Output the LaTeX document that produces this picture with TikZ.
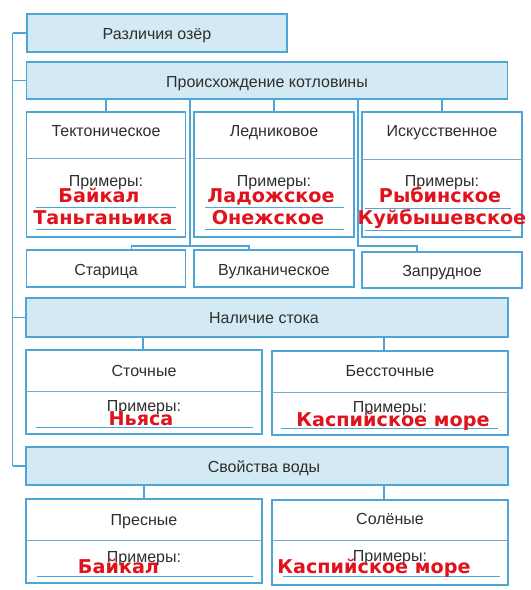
\documentclass[tikz,border=0pt]{standalone}
\usepackage{fontspec}
\setmainfont{Liberation Sans}
\newfontfamily\redfont[FakeStretch=1.01]{DejaVu Sans}
\usepackage{tikz}

\definecolor{lakeline}{HTML}{4DA6D6}
\definecolor{lakefill}{HTML}{D3EAF5}
\definecolor{lakegray}{HTML}{2E2E2E}
\definecolor{lakered}{HTML}{E0121C}
\definecolor{lakesep}{HTML}{7DA9C4}

\tikzset{
  headbox/.style={draw=lakeline, fill=lakefill, line width=1.6pt, inner sep=0pt,
    text=lakegray, font=\fontsize{16}{18}\selectfont},
  kindbox/.style={draw=lakeline, fill=white, line width=1.6pt, inner sep=0pt},
  kindname/.style={text=lakegray, font=\fontsize{16}{18}\selectfont, inner sep=0pt,
    text height=11.4pt, text depth=0pt},
  lakename/.style={text=lakered, font=\redfont\bfseries\fontsize{19}{21}\selectfont,
    inner sep=0pt, text height=13.8pt, text depth=0pt},
  link/.style={draw=lakeline, line width=1.6pt},
  sepline/.style={draw=lakesep, line width=0.7pt},
  fillline/.style={draw=lakeline, line width=0.7pt}
}

\begin{document}
\begin{tikzpicture}[x=1pt,y=-1pt]
        \useasboundingbox (0,0) rectangle (531,590);
        % blue headings
        \node[headbox, minimum width=260pt, minimum height=38pt] (diff) at (157,33) {};
        \node[kindname] (difftext) at (157,33.5) {Различия озёр};
        \node[headbox, minimum width=481pt, minimum height=37pt] (orig) at (267,80.5) {};
        \node[kindname] (origtext) at (267,82) {Происхождение котловины};
        \node[headbox, minimum width=482pt, minimum height=39pt] (flow) at (267,317.5) {};
        \node[kindname] (flowtext) at (264,318) {Наличие стока};
        \node[headbox, minimum width=482pt, minimum height=38pt] (water) at (267,466) {};
        \node[kindname] (watertext) at (264,467) {Свойства воды};
        % spine
        \coordinate (spine) at (12.5,0);
        \draw[link] (diff.west -| spine) -- (water.west -| spine);
        \draw[link] (diff.west -| spine) -- (diff.west);
        \draw[link] (orig.west -| spine) -- (orig.west);
        \draw[link] (flow.west -| spine) -- (flow.west);
        \draw[link] (water.west -| spine) -- (water.west);
        % origin of the basin
        \node[kindbox, minimum width=159pt, minimum height=125pt] (tect) at (106,174.5) {};
        \node[kindbox, minimum width=160pt, minimum height=125pt] (glac) at (274,174.5) {};
        \node[kindbox, minimum width=160pt, minimum height=125pt] (art) at (442,174.5) {};
        \node[kindname] (tectname) at (106,130.5) {Тектоническое};
        \node[kindname] (glacname) at (274,130.5) {Ледниковое};
        \node[kindname] (artname) at (442,131) {Искусственное};
        \draw[sepline] (26.5,158) -- (185.5,158);
        \draw[sepline] (194,158) -- (354,158);
        \draw[sepline] (362,159) -- (522,159);
        \node[kindname] (tectex) at (106,180.5) {Примеры:};
        \node[kindname] (glacex) at (274,180.5) {Примеры:};
        \node[kindname] (artex) at (442,180.5) {Примеры:};
        \draw[fillline] (35.5,207) -- (176,207);
        \draw[fillline] (35.5,229) -- (176,229);
        \draw[fillline] (205,207) -- (344,207);
        \draw[fillline] (205,229) -- (344,229);
        \draw[fillline] (365,208) -- (511,208);
        \draw[fillline] (365,230) -- (511,230);
        \node[lakename] (tectA) at (99,195.5) {Байкал};
        \node[lakename] (tectB) at (103,218) {Таньганьика};
        \node[lakename] (glacA) at (271,196) {Ладожское};
        \node[lakename] (glacB) at (268,218) {Онежское};
        \node[lakename] (artA) at (440,196) {Рыбинское};
        \node[lakename] (artB) at (442,218) {Куйбышевское};
        \draw[link] (orig.south -| tect.north) -- (tect.north);
        \draw[link] (orig.south -| glac.north) -- (glac.north);
        \draw[link] (orig.south -| art.north) -- (art.north);
        \node[kindbox, minimum width=159pt, minimum height=37pt] (old) at (106,268.5) {};
        \node[kindbox, minimum width=160pt, minimum height=37pt] (volc) at (274,268.5) {};
        \node[kindbox, minimum width=160pt, minimum height=36pt] (dam) at (442,270) {};
        \node[kindname] (oldname) at (106,269.5) {Старица};
        \node[kindname] (volcname) at (274,270) {Вулканическое};
        \node[kindname] (damname) at (442,271) {Запрудное};
        \coordinate (forkA) at (190,246);
        \coordinate (forkAl) at (131.5,246);
        \coordinate (forkAr) at (249,246);
        \draw[link] (orig.south -| forkA) -- (forkA);
        \draw[link] (forkAl |- old.north) -- (forkAl) -- (forkAr) -- (forkAr |- volc.north);
        \coordinate (forkB) at (358,246);
        \coordinate (forkBr) at (417,246);
        \draw[link] (orig.south -| forkB) -- (forkB) -- (forkBr) -- (forkBr |- dam.north);
        % outflow
        \node[kindbox, minimum width=236pt, minimum height=84pt] (drain) at (144,392) {};
        \node[kindbox, minimum width=236pt, minimum height=84pt] (closed) at (390,393) {};
        \draw[link] (flow.south -| 143,0) -- (drain.north -| 143,0);
        \draw[link] (flow.south -| 384,0) -- (closed.north -| 384,0);
        \node[kindname] (drainname) at (144,370.5) {Сточные};
        \node[kindname] (closedname) at (390,371) {Бессточные};
        \draw[sepline] (26,391.5) -- (262,391.5);
        \draw[sepline] (272,392.5) -- (508,392.5);
        \node[kindname] (drainex) at (144,406) {Примеры:};
        \node[kindname] (closedex) at (390,407) {Примеры:};
        \draw[fillline] (35.5,427) -- (253,427);
        \draw[fillline] (281,428) -- (498,428);
        \node[lakename] (drainA) at (141,419) {Ньяса};
        \node[lakename] (closedA) at (393,420) {Каспийское море};
        % water
        \node[kindbox, minimum width=236pt, minimum height=84pt] (fresh) at (144,541) {};
        \node[kindbox, minimum width=236pt, minimum height=85pt] (salt) at (390,542.5) {};
        \draw[link] (water.south -| 144,0) -- (fresh.north -| 144,0);
        \draw[link] (water.south -| 384,0) -- (salt.north -| 384,0);
        \node[kindname] (freshname) at (144,519.5) {Пресные};
        \node[kindname] (saltname) at (390,519) {Солёные};
        \draw[sepline] (26,540) -- (262,540);
        \draw[sepline] (272,540.5) -- (508,540.5);
        \node[kindname] (freshex) at (144,556.5) {Примеры:};
        \node[kindname] (saltex) at (390,556) {Примеры:};
        \draw[fillline] (36.5,576) -- (253,576);
        \draw[fillline] (283,576.5) -- (499.5,576.5);
        \node[lakename] (freshA) at (118.5,567) {Байкал};
        \node[lakename] (saltA) at (374,567) {Каспийское море};
      \end{tikzpicture}
\end{document}
